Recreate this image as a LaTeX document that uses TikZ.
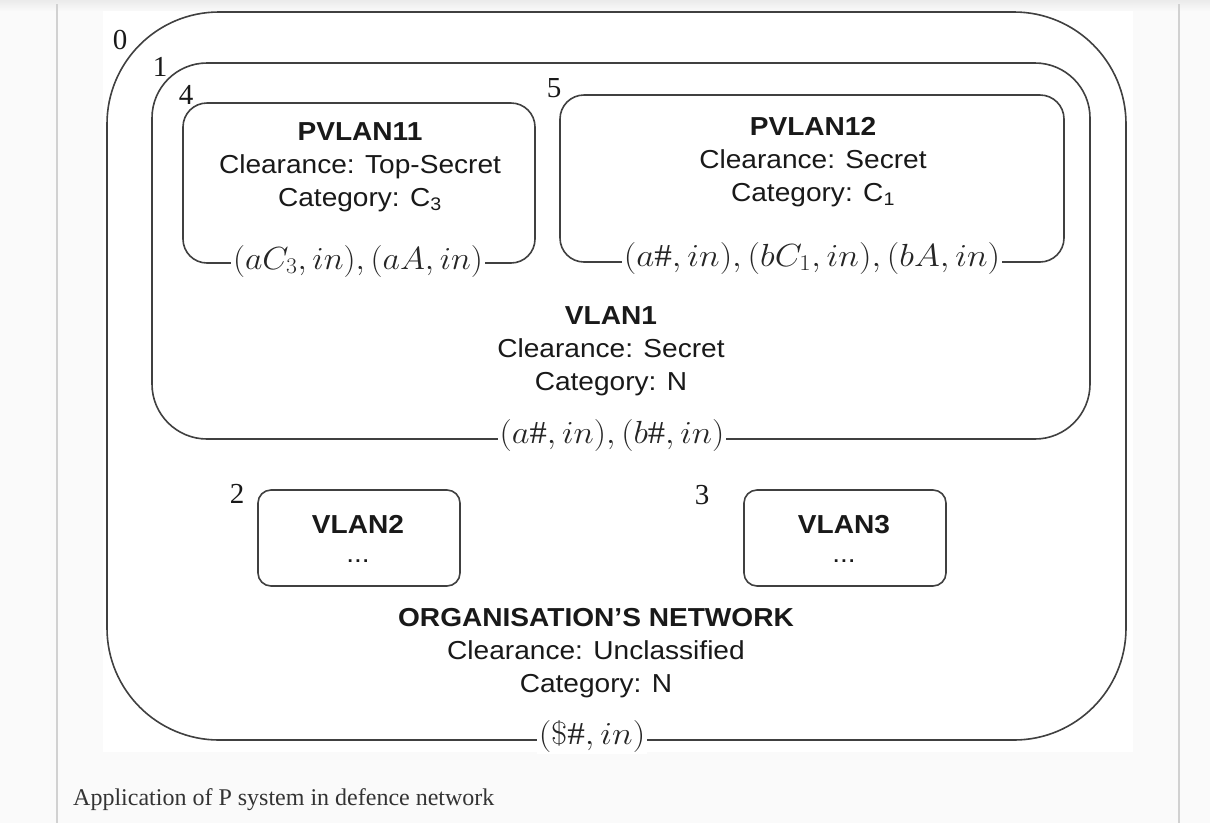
\RequirePackage{fix-cm}
\documentclass[tikz,border=0pt]{standalone}
\usepackage{fontspec}
\usepackage{graphicx}
\setmainfont{Liberation Serif}
\setsansfont[FakeStretch=1.08]{Liberation Sans}
\begin{document}
\begin{tikzpicture}[x=1pt,y=-1pt,
  frame/.style={draw=black!75,line width=1.6pt},
  tx/.style={font=\sffamily\fontsize{26}{33}\selectfont,align=center,text=black!90,inner sep=0pt},
  num/.style={font=\fontsize{29}{29}\selectfont,text=black!90,inner sep=0pt},
  rule/.style={fill=white,inner sep=2pt,font=\fontsize{32}{32}\selectfont,text=black!85}]
\useasboundingbox (0,0) rectangle (1210,823);
\fill[black!2] (0,0) rectangle (1210,823);
\fill[top color=black!8,bottom color=black!2] (0,0) rectangle (1210,11);
\fill[black!18] (56,4) rectangle (58,823);
\fill[black!18] (1178,4) rectangle (1180,823);
\fill[white] (103,11) rectangle (1133,752);
% frames
\draw[frame,rounded corners=112pt] (107,12) rectangle (1126,740);
\draw[frame,rounded corners=55pt] (152,63) rectangle (1090,439);
\draw[frame,rounded corners=24pt] (183,103) rectangle (535,263);
\draw[frame,rounded corners=24pt] (560,95) rectangle (1064,262);
\draw[frame,rounded corners=13pt] (258,490) rectangle (460,586);
\draw[frame,rounded corners=13pt] (744,490) rectangle (946,586);
% numbers
\node[num] (n0) at (120,40) {0};
\node[num] (n1) at (160,67) {1};
\node[num] (n4) at (186,95) {4};
\node[num] (n5) at (554,88) {5};
\node[num] (n2) at (237,494) {2};
\node[num] (n3) at (702,495) {3};
% texts
\node[tx] (t4) at (360,167) {\textbf{PVLAN11}\\Clearance: Top-Secret\\Category: C\textsubscript{3}};
\node[tx] (t5) at (813,162) {\textbf{PVLAN12}\\Clearance: Secret\\Category: C\textsubscript{1}};
\node[tx] (t1) at (611,351) {\textbf{VLAN1}\\Clearance: Secret\\Category: N};
\node[tx] (t2) at (358,541) {\textbf{VLAN2}\\\raisebox{0.3ex}{...}};
\node[tx] (t3) at (844,541) {\textbf{VLAN3}\\\raisebox{0.3ex}{...}};
\node[tx] (t0) at (596,653) {\textbf{ORGANISATION'S NETWORK}\\Clearance: Unclassified\\Category: N};
% rule labels
\node[rule] (r4) at (358,261) {\scalebox{1.06}[1]{$(aC_3,in),(aA,in)$}};
\node[rule] (r5) at (812,258) {\scalebox{1.1}[1]{$(a\#,in),(bC_1,in),(bA,in)$}};
\node[rule] (r1) at (612,435) {\scalebox{1.08}[1]{$(a\#,in),(b\#,in)$}};
\node[rule] (r0) at (592,736) {\scalebox{1.1}[1]{$(\$\#,in)$}};
% caption
\node[anchor=west,inner sep=0pt,font=\fontsize{24}{24}\selectfont,text=black!80] (cap) at (73,800) {Application of P system in defence network};
\end{tikzpicture}
\end{document}
